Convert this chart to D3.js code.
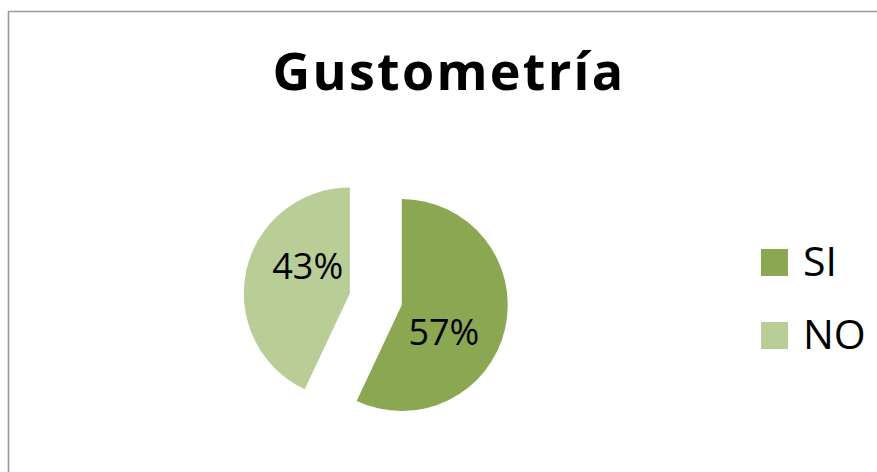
<!DOCTYPE html>
<html>
<head>
<meta charset="utf-8">
<script src="https://cdn.jsdelivr.net/npm/d3@7"></script>
<style>
  html, body { margin: 0; padding: 0; background: #ffffff; }
  svg { display: block; font-family: "Open Sans", "Noto Sans", sans-serif; }
</style>
</head>
<body>
<svg id="chart" width="877" height="472"></svg>
<script>
// Survey answers for the taste test
const title = "Gustometría";
const categories = ["SI", "NO"];
const values = [57, 43];
const colors = ["#8BA752", "#B9CE97"];

const W = 877, H = 472;
const svg = d3.select("#chart");

// chart frame (open to the right and bottom)
svg.append("path")
  .attr("d", `M8.5,${H + 5} L8.5,11.5 L${W + 5},11.5`)
  .attr("fill", "none")
  .attr("stroke", "#9a9a9a")
  .attr("stroke-width", 1.6);

// title
svg.append("text")
  .attr("x", 449)
  .attr("y", 89.5)
  .attr("text-anchor", "middle")
  .attr("font-size", 52)
  .attr("font-weight", 700)
  .attr("letter-spacing", 2.3)
  .attr("fill", "#000")
  .text(title);

// exploded pie
const cx = 375.8, cy = 299.2, radius = 106, explode = 26.6;
const total = d3.sum(values);
const pie = d3.pie().sort(null).value(d => d.value);
const arcs = pie(categories.map((c, i) => ({ cat: c, value: values[i], color: colors[i] })));
const arc = d3.arc().innerRadius(0).outerRadius(radius);
const pct = d3.format(".0%");

const slices = svg.append("g").attr("transform", `translate(${cx},${cy})`)
  .selectAll("g.slice").data(arcs).join("g")
  .attr("class", "slice")
  .attr("transform", d => {
    const mid = (d.startAngle + d.endAngle) / 2;
    return `translate(${explode * Math.sin(mid)},${-explode * Math.cos(mid)})`;
  });

slices.append("path")
  .attr("d", arc)
  .attr("fill", d => d.data.color);

// percentage labels, set a little clockwise of each slice's middle
const labelR = 50, labelTurn = 0.35;
slices.append("text")
  .attr("x", d => labelR * Math.sin((d.startAngle + d.endAngle) / 2 + labelTurn))
  .attr("y", d => -labelR * Math.cos((d.startAngle + d.endAngle) / 2 + labelTurn))
  .attr("dy", "0.36em")
  .attr("text-anchor", "middle")
  .attr("font-size", 36)
  .attr("fill", "#000")
  .text(d => pct(d.data.value / total));

// legend
const legend = svg.append("g").attr("transform", "translate(761,249)")
  .selectAll("g").data(categories).join("g")
  .attr("transform", (d, i) => `translate(0,${i * 73})`);

legend.append("rect")
  .attr("width", 27).attr("height", 27)
  .attr("fill", (d, i) => colors[i]);

legend.append("text")
  .attr("x", 42)
  .attr("y", 27)
  .attr("font-size", 41)
  .attr("fill", "#000")
  .text(d => d);
</script>
</body>
</html>
